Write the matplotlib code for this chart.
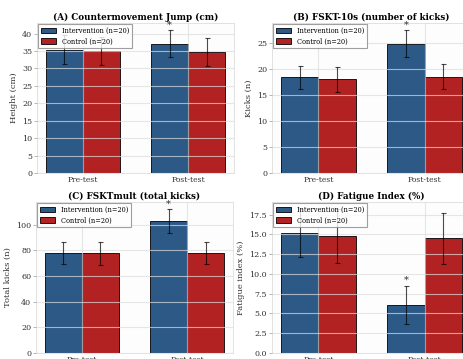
import numpy as np
import matplotlib
matplotlib.use("Agg")
import matplotlib.pyplot as plt

# data (mean, sd), order: Pre-test, Post-test
timepoints = ["Pre-test", "Post-test"]
titles = ["(A) Countermovement Jump (cm)", "(B) FSKT-10s (number of kicks)",
          "(C) FSKTmult (total kicks)", "(D) Fatigue Index (%)"]
ylabels = ["Height (cm)", "Kicks (n)", "Total kicks (n)", "Fatigue index (%)"]

cmj_int = [35.4, 37.1]
cmj_int_sd = [4.2, 3.9]
cmj_ctl = [35.0, 34.7]
cmj_ctl_sd = [3.9, 4.0]

fskt_int = [18.4, 24.9]
fskt_int_sd = [2.2, 2.6]
fskt_ctl = [18.0, 18.5]
fskt_ctl_sd = [2.5, 2.4]

mult_int = [78.3, 103.0]
mult_int_sd = [8.5, 9.2]
mult_ctl = [77.8, 78.0]
mult_ctl_sd = [8.8, 8.7]

fi_int = [15.2, 6.1]
fi_int_sd = [3.0, 2.4]
fi_ctl = [14.8, 14.5]
fi_ctl_sd = [3.4, 3.2]

significant = [[False, True], [False, True], [False, True], [False, True]]

panels = [(cmj_int, cmj_int_sd, cmj_ctl, cmj_ctl_sd),
          (fskt_int, fskt_int_sd, fskt_ctl, fskt_ctl_sd),
          (mult_int, mult_int_sd, mult_ctl, mult_ctl_sd),
          (fi_int, fi_int_sd, fi_ctl, fi_ctl_sd)]

plt.rcParams['font.family'] = ['DejaVu Serif']

W, H = 463, 359
fig = plt.figure(figsize=(W / 100, H / 100), dpi=100)
fig.patch.set_facecolor('white')

# axes boxes in pixels: left, top, width, height
boxes = [(37, 23, 197, 150), (272, 23, 199, 150),
         (36, 202, 197, 151), (272, 202, 199, 151)]

blue = '#2d5986'
red = '#b22222'
x = np.arange(len(timepoints))
w = 0.35

for i, (m1, s1, m2, s2) in enumerate(panels):
    l, t, bw, bh = boxes[i]
    ax = fig.add_axes([l / W, (H - t - bh) / H, bw / W, bh / H])
    ax.set_facecolor('#fdfdfd')
    ax.bar(x - w / 2, m1, w, color=blue, edgecolor='black', linewidth=0.6,
           label='Intervention (n=20)', zorder=1)
    ax.bar(x + w / 2, m2, w, color=red, edgecolor='black', linewidth=0.6,
           label='Control (n=20)', zorder=1)
    ax.errorbar(x - w / 2, m1, yerr=s1, fmt='none', ecolor='black', alpha=0.7,
                capsize=1.8, elinewidth=0.8, capthick=0.8, zorder=3)
    ax.errorbar(x + w / 2, m2, yerr=s2, fmt='none', ecolor='black', alpha=0.7,
                capsize=1.8, elinewidth=0.8, capthick=0.8, zorder=3)
    for j, sig in enumerate(significant[i]):
        if sig:
            ax.annotate('*', (x[j] - w / 2, m1[j] + s1[j]), xytext=(0, 0.5),
                        textcoords='offset points', ha='center', va='bottom',
                        fontsize=7, color='#333333')
    ax.grid(True, color='#dddddd', alpha=0.7, linewidth=0.8, zorder=2)
    ax.set_axisbelow(False)
    ax.set_xticks(x)
    ax.set_xticklabels(timepoints, fontsize=5.5, color='#333333')
    ax.tick_params(axis='y', labelsize=5.8, labelcolor='#333333', length=2,
                   width=0.5, color='#999999', pad=1.5)
    ax.tick_params(axis='x', length=0, pad=2)
    ax.set_ylabel(ylabels[i], fontsize=6, color='#333333', labelpad=3)
    ax.set_title(titles[i], fontsize=6.3, fontweight='bold', pad=2.5)
    for sp in ax.spines.values():
        sp.set_color('#dddddd')
        sp.set_linewidth(0.6)
    leg = ax.legend(loc='upper left', fontsize=4.8, frameon=True, fancybox=False,
                    edgecolor='#888888', framealpha=0.8, borderpad=0.4,
                    handlelength=2.3, handleheight=0.9, labelspacing=0.35,
                    borderaxespad=0.2)
    leg.get_frame().set_linewidth(0.8)

fig.savefig('out.png', dpi=100)
